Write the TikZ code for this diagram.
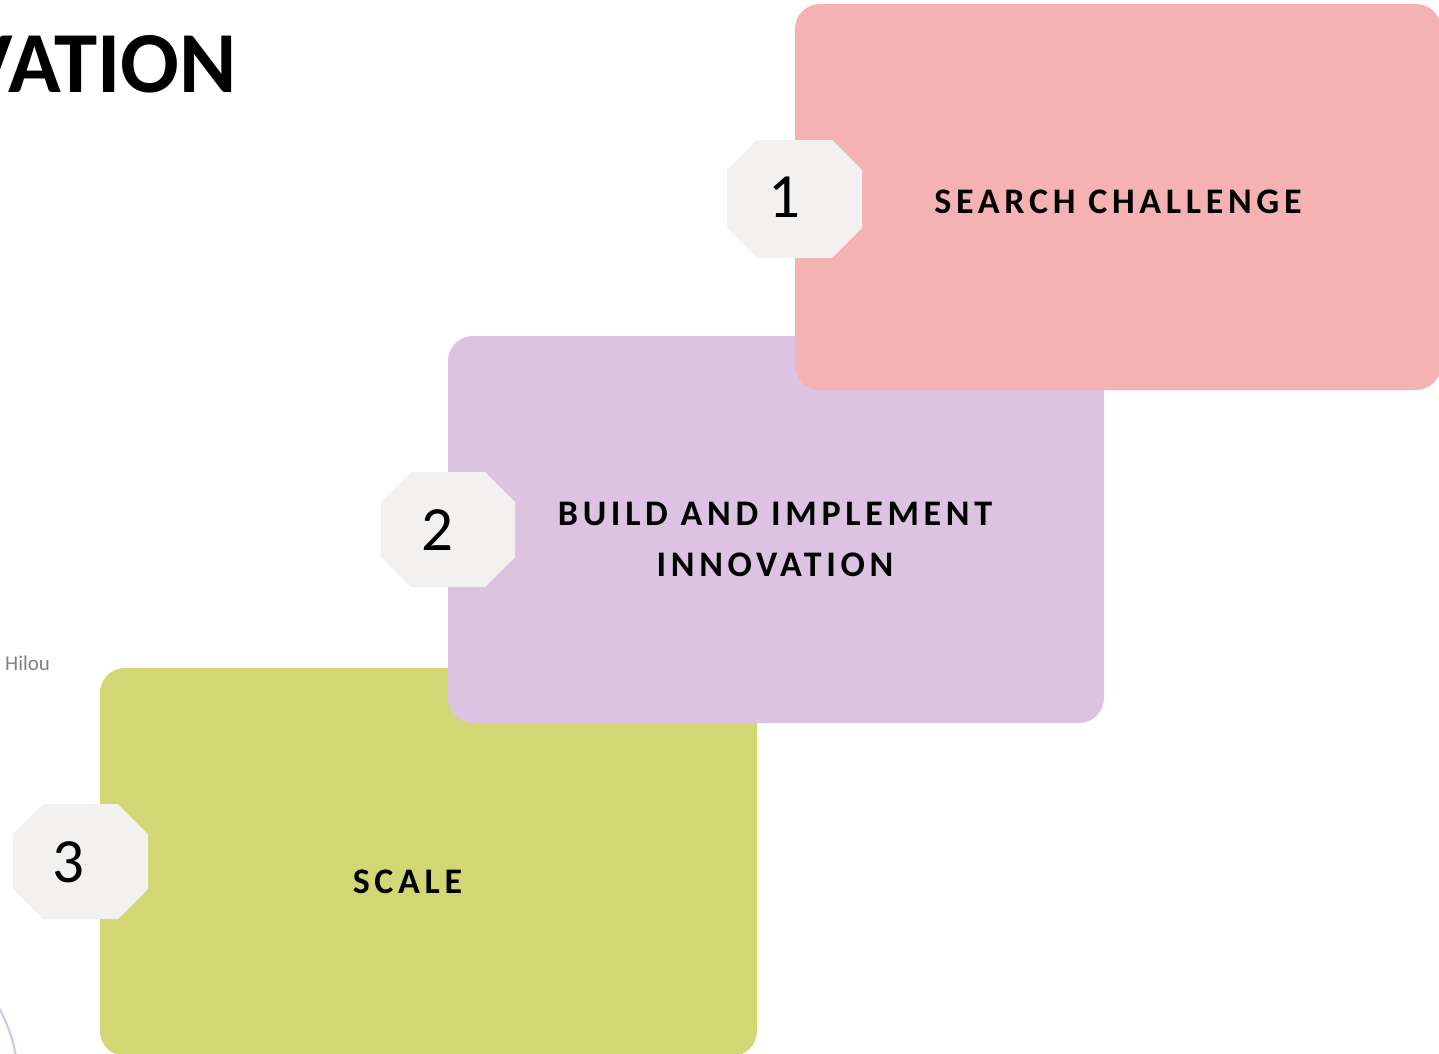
\documentclass[tikz,border=0pt]{standalone}
\usepackage{fontspec}
\setmainfont{Carlito}
\newfontfamily\spaced[LetterSpace=13]{Carlito}
\usepackage{tikz}
\definecolor{cardpink}{HTML}{F4B3B2}
\definecolor{cardlilac}{HTML}{DBC3E1}
\definecolor{cardlime}{HTML}{D2D773}
\definecolor{octagrey}{HTML}{F2F1F0}
\definecolor{arclilac}{HTML}{D9BFE3}
% octagon from left x, top y, right x, bottom y, cut
\def\octagon(#1,#2,#3,#4,#5){\fill[octagrey] (#1+#5,#2) -- (#3-#5,#2) -- (#3,#2+#5) -- (#3,#4-#5) -- (#3-#5,#4) -- (#1+#5,#4) -- (#1,#4-#5) -- (#1,#2+#5) -- cycle;}
\tikzset{
  card/.style={rounded corners=25pt},
  steplabel/.style={font=\spaced\bfseries\fontsize{36}{51}\selectfont, align=center, inner sep=0pt},
  stepnum/.style={font=\fontsize{63}{70}\selectfont, inner sep=0pt}
}
\begin{document}
\begin{tikzpicture}[x=1pt, y=-1pt]
			%%%%% START %%%%%
			\clip (0,0) rectangle (1439,1053);
			\fill[white] (0,0) rectangle (1439,1053);
			
			\node[anchor=base east, inner sep=0pt, font=\bfseries\fontsize{87}{100}\selectfont] (title) at (237,92) {VATION};
			\node[anchor=base west, inner sep=0pt, text=black!50, font=\fontsize{21}{24}\selectfont] (author) at (5,670) {Hilou};
			
			\draw[line width=2pt, color=arclilac] (-2,1006) .. controls (8,1024) and (13,1040) .. (16,1056);
			
			% cards, back to front
			\fill[card, cardlime] (100,668) rectangle (757,1056);
			\fill[card, cardlilac] (448,336) rectangle (1104,723);
			\fill[card, cardpink] (795,4) rectangle (1441,390);
			
			\octagon(727,140,862,258,30)
			\octagon(381,472,515,587,30)
			\octagon(13,804,148,919,30)
			
			\node[stepnum] (num1) at (784,197) {1};
			\node[stepnum] (num2) at (437,530) {2};
			\node[stepnum] (num3) at (68,862) {3};
			
			\node[steplabel] (search) at (1118,201.5) {SEARCH CHALLENGE};
			\node[steplabel] (build) at (775,539.5) {BUILD AND IMPLEMENT\\INNOVATION};
			\node[steplabel] (scale) at (407.5,881.5) {SCALE};
			%%%%% END %%%%%
\end{tikzpicture}
\end{document}
